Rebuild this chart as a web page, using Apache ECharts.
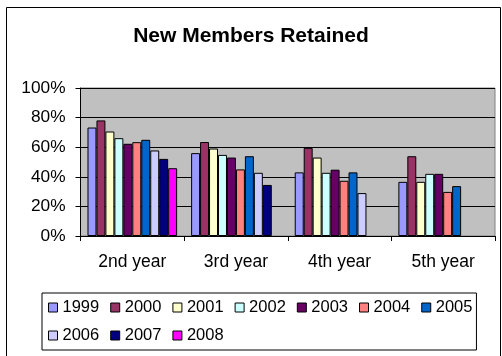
<!DOCTYPE html>
<html><head><meta charset="utf-8">
<script src="https://cdn.jsdelivr.net/npm/echarts@6/dist/echarts.min.js"></script>
<style>html,body{margin:0;padding:0;background:#fff}#c{width:502px;height:356px}</style>
</head><body><div id="c"></div>
<script>
const categories = ['2nd year','3rd year','4th year','5th year'];
const years = ['1999','2000','2001','2002','2003','2004','2005','2006','2007','2008'];
const colors = ['#9999FF','#993366','#FFFFCC','#CCFFFF','#660066','#FF8080','#0066CC','#CCCCFF','#000080','#FF00FF'];
const s1999 = [73.3, 56.0, 43.0, 36.6];
const s2000 = [78.1, 63.5, 59.6, 53.9];
const s2001 = [70.6, 59.1, 53.0, 36.6];
const s2002 = [66.1, 54.8, 42.7, 42.0];
const s2003 = [62.3, 53.0, 44.8, 42.0];
const s2004 = [63.4, 45.0, 37.3, 29.8];
const s2005 = [65.0, 53.9, 43.0, 33.7];
const s2006 = [57.8, 42.7, 29.0, null];
const s2007 = [52.1, 34.5, null, null];
const s2008 = [45.8, null, null, null];
const seriesData = [s1999,s2000,s2001,s2002,s2003,s2004,s2005,s2006,s2007,s2008];
const yTicks = [0,20,40,60,80,100];

const FONT = 'Liberation Sans, Arial, sans-serif';
const chart = echarts.init(document.getElementById('c'));
chart.setOption({
  animation: false,
  backgroundColor: '#fff',
  graphic: [{type:'rect', shape:{x:6.5,y:7.5,width:494,height:400}, style:{fill:'none', stroke:'#000', lineWidth:1}, silent:true}],
  title: {text:'New Members Retained', left:'center', top:21,
    textStyle:{fontFamily:FONT, fontSize:21, fontWeight:'bold', color:'#000'}},
  grid: {left:80.5, right:7, top:88, bottom:120, show:true, backgroundColor:'#C0C0C0', borderColor:'#808080', borderWidth:1},
  legend: {data: years, left:42, top:293, width:432, itemWidth:9, itemHeight:9, itemGap:11,
    icon:'rect', padding:[6,4,6,6], borderColor:'#000', borderWidth:1,
    textStyle:{fontFamily:FONT, fontSize:16.5, color:'#000'},
    itemStyle:{borderColor:'#000', borderWidth:1}},
  xAxis: {type:'category', data:categories,
    axisLine:{lineStyle:{color:'#000'}}, axisTick:{show:true, length:5, lineStyle:{color:'#000'}},
    axisLabel:{fontFamily:FONT, fontSize:17.5, color:'#000', margin:17}},
  yAxis: {type:'value', min:0, max:100, interval:20,
    axisLine:{show:true, lineStyle:{color:'#000'}}, axisTick:{show:true, length:5, lineStyle:{color:'#000'}},
    splitLine:{lineStyle:{color:'#000'}},
    axisLabel:{fontFamily:FONT, fontSize:17.3, color:'#000', margin:15, formatter: v => v + '%'}},
  series: years.map((y,i)=>({name:y, type:'bar', data:seriesData[i], barGap:'0%', barCategoryGap:'13.5%',
    itemStyle:{color:colors[i], borderColor:'#000', borderWidth:1}}))
});
</script></body></html>
